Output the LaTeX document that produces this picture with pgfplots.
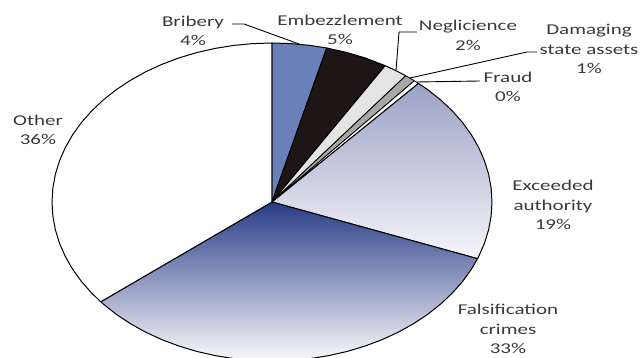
\documentclass[border=0pt]{standalone}
\usepackage{pgfplots}
\pgfplotsset{compat=1.18}
\usepackage{fontspec}
\setmainfont{Carlito}
\usepackage{graphicx}
\definecolor{brib}{HTML}{6A80B8}
\definecolor{embz}{HTML}{1E1616}
\definecolor{negl}{HTML}{E4E4E4}
\definecolor{dama}{HTML}{A8A8A8}
\definecolor{exctop}{HTML}{9AA1C6}
\definecolor{excmid}{HTML}{CDD0E0}
\definecolor{excbot}{HTML}{F6F6F9}
\definecolor{falstop}{HTML}{283C86}
\definecolor{falsmid}{HTML}{ABAEC4}
\definecolor{falsbot}{HTML}{FAFAFB}
\definecolor{txt}{HTML}{3A3A3A}
\newcommand{\lbl}[1]{\scalebox{1.4}[1]{#1}}
% Shares (%): Bribery 4.0, Embezzlement 4.6, Neglicience 1.8, Damaging state assets 0.8,
% Fraud 0.4, Exceeded authority 19.2, Falsification crimes 33.4, Other 35.8
% Slices clockwise from 90 deg; 1% = 3.6 deg. Coordinates are (angle, radius).
\begin{document}
\begin{tikzpicture}[x=1pt,y=1pt]
\useasboundingbox (-272,-156) rectangle (371,202);
\begin{axis}[at={(0,0)}, anchor=center, scale only axis,
  width=440pt, height=318pt,
  xmin=-1, xmax=1, ymin=-1, ymax=1,
  hide axis, clip=false]
% Bribery 4.0
\addplot[data cs=polar, draw=black, line width=1pt, line join=round, fill=brib]
 coordinates {(0,0) (90,1) (85,1) (80,1) (75.6,1) (0,0)} -- cycle;
% Embezzlement 4.6
\addplot[data cs=polar, draw=black, line width=1pt, line join=round, fill=embz]
 coordinates {(0,0) (75.6,1) (70,1) (65,1) (59.04,1) (0,0)} -- cycle;
% Neglicience 1.8
\addplot[data cs=polar, draw=black, line width=1pt, line join=round, fill=negl]
 coordinates {(0,0) (59.04,1) (56,1) (52.56,1) (0,0)} -- cycle;
% Damaging state assets 0.8
\addplot[data cs=polar, draw=black, line width=0.8pt, line join=round, fill=dama]
 coordinates {(0,0) (52.56,1) (51,1) (49.68,1) (0,0)} -- cycle;
% Fraud 0.4
\addplot[data cs=polar, draw=black, line width=0.8pt, line join=round, fill=white]
 coordinates {(0,0) (49.68,1) (49,1) (48.24,1) (0,0)} -- cycle;
% Exceeded authority 19.2
\addplot[data cs=polar, draw=black, line width=1pt, line join=round,
   top color=exctop, middle color=excmid, bottom color=excbot]
 coordinates {(0,0) (48.24,1) (45,1) (40,1) (35,1) (30,1) (25,1) (20,1) (15,1) (10,1) (5,1) (0,1)
  (-5,1) (-10,1) (-15,1) (-20,1) (-20.88,1) (0,0)} -- cycle;
% Falsification crimes 33.4
\addplot[data cs=polar, draw=black, line width=1pt, line join=round,
   top color=falstop, middle color=falsmid, bottom color=falsbot]
 coordinates {(0,0) (-20.88,1) (-25,1) (-30,1) (-35,1) (-40,1) (-45,1) (-50,1) (-55,1) (-60,1)
  (-65,1) (-70,1) (-75,1) (-80,1) (-85,1) (-90,1) (-95,1) (-100,1) (-105,1) (-110,1) (-115,1)
  (-120,1) (-125,1) (-130,1) (-135,1) (-140,1) (-141.12,1) (0,0)} -- cycle;
% Other 35.8
\addplot[data cs=polar, draw=black, line width=1pt, line join=round, fill=white]
 coordinates {(0,0) (-141.12,1) (-145,1) (-150,1) (-155,1) (-160,1) (-165,1) (-170,1) (-175,1)
  (-180,1) (-185,1) (-190,1) (-195,1) (-200,1) (-205,1) (-210,1) (-215,1) (-220,1) (-225,1)
  (-230,1) (-235,1) (-240,1) (-245,1) (-250,1) (-255,1) (-260,1) (-265,1) (-270,1) (0,0)} -- cycle;
\end{axis}
% leader lines
\draw[black, line width=0.9pt] (-40,178) -- (-28,178) -- (27,158);
\draw[black, line width=0.9pt] (145,170) -- (127,170) -- (124,131.5);
\draw[black, line width=0.9pt] (265,150) -- (255,150) -- (138,124);
\draw[black, line width=0.9pt] (208,121) -- (145,120);
% labels
\begin{scope}[every node/.style={align=center, text=txt, inner sep=0pt,
   font=\fontsize{15}{19.5}\selectfont}]
\node at (-79,171) {\lbl{Bribery}\\\lbl{4\%}};
\node at (68,172) {\lbl{Embezzlement}\\\lbl{5\%}};
\node at (196,166.5) {\lbl{Neglicience}\\\lbl{2\%}};
\node at (317,153) {\lbl{Damaging}\\\lbl{state assets}\\\lbl{1\%}};
\node at (236,115) {\lbl{Fraud}\\\lbl{0\%}};
\node at (-234,72) {\lbl{Other}\\\lbl{36\%}};
\node at (281,-3) {\lbl{Exceeded}\\\lbl{authority}\\\lbl{19\%}};
\node at (236,-127) {\lbl{Falsification}\\\lbl{crimes}\\\lbl{33\%}};
\end{scope}
\end{tikzpicture}
\end{document}
